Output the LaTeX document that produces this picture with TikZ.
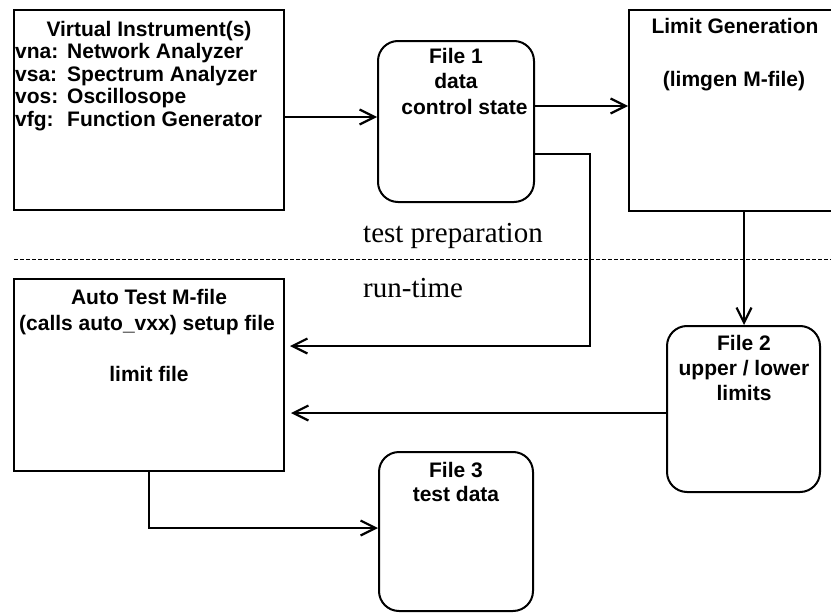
\documentclass[tikz,border=0pt]{standalone}
\usepackage{fontspec}
\setmainfont{Liberation Serif}
\newfontfamily\arialf{Liberation Sans}
\usetikzlibrary{arrows.meta}
\tikzset{
  box/.style={draw, line width=2pt, rectangle, inner sep=0pt},
  filebox/.style={draw, line width=2pt, rectangle, rounded corners=20pt, inner sep=0pt},
  txt/.style={font=\arialf\bfseries\fontsize{21}{25}\selectfont, inner sep=0pt, anchor=base},
  ltxt/.style={txt, anchor=base west},
  stxt/.style={font=\fontsize{29}{33}\selectfont, inner sep=0pt, anchor=base west},
  conn/.style={line width=2.2pt},
  arr/.style={conn, -{Straight Barb[length=15pt,width=15pt]}},
}
\begin{document}
\begin{tikzpicture}[x=1pt,y=-1pt]
\useasboundingbox (0,0) rectangle (831,613);
% boxes
\node[box, minimum width=270pt, minimum height=200pt] (VI) at (149,110) {};
\node[filebox, minimum width=156pt, minimum height=161pt] (F1) at (456,121.5) {};
\begin{scope}
  \clip (0,0) rectangle (831,613);
  \node[box, minimum width=212pt, minimum height=201pt] (LG) at (735,110.5) {};
\end{scope}
\node[box, minimum width=270pt, minimum height=192pt] (AT) at (149,375) {};
\node[filebox, minimum width=153pt, minimum height=166pt] (F2) at (743.5,409) {};
\node[filebox, minimum width=154pt, minimum height=159pt] (F3) at (456,531.5) {};
% texts
\node[txt] (vi0) at (149,36) {Virtual Instrument(s)};
\node[ltxt] (vi1) at (15,58.5) {\makebox[52pt][l]{vna:}Network Analyzer};
\node[ltxt] (vi2) at (15,81) {\makebox[52pt][l]{vsa:}Spectrum Analyzer};
\node[ltxt] (vi3) at (15,103.5) {\makebox[52pt][l]{vos:}Oscillosope};
\node[ltxt] (vi4) at (15,126) {\makebox[52pt][l]{vfg:}Function Generator};
\node[txt] (f1a) at (456,63) {File 1};
\node[txt] (f1b) at (456,88) {data};
\node[txt] (f1c) at (464.5,114) {control state};
\node[txt] (lga) at (735,34) {Limit Generation};
\node[txt] (lgb) at (734,86) {(limgen M-file)};
\node[txt] (ata) at (149,304) {Auto Test M-file};
\node[txt] (atb) at (147,330) {(calls auto\_vxx) setup file};
\node[txt] (atc) at (149,381) {limit file};
\node[txt] (f2a) at (744,350) {File 2};
\node[txt] (f2b) at (744,375) {upper / lower};
\node[txt] (f2c) at (744,400) {limits};
\node[txt] (f3a) at (456,477) {File 3};
\node[txt] (f3b) at (456,501) {test data};
\node[stxt] (tp) at (363,242) {test preparation};
\node[stxt] (rt) at (363,297) {run-time};
% dashed separator
\coordinate (dl) at (14,259);
\coordinate (dr) at (831,259);
\draw[line width=1pt, dash pattern=on 4pt off 2pt] (dl) -- (dr);
% connectors
\draw[arr] (VI.east |- 0,117) -- (F1.west |- 0,117);
\draw[arr] (F1.east |- 0,106) -- (LG.west |- 0,106);
\draw[arr, shorten >=5pt] (F1.east |- 0,154) -| (590,346) -- (AT.east |- 0,346);
\draw[arr] (744,0 |- LG.south) -- (744,0 |- F2.north);
\draw[arr, shorten >=6pt] (F2.west |- 0,413) -- (AT.east |- 0,413);
\draw[arr] (AT.south) |- (F3.west |- 0,528);
\end{tikzpicture}
\end{document}
